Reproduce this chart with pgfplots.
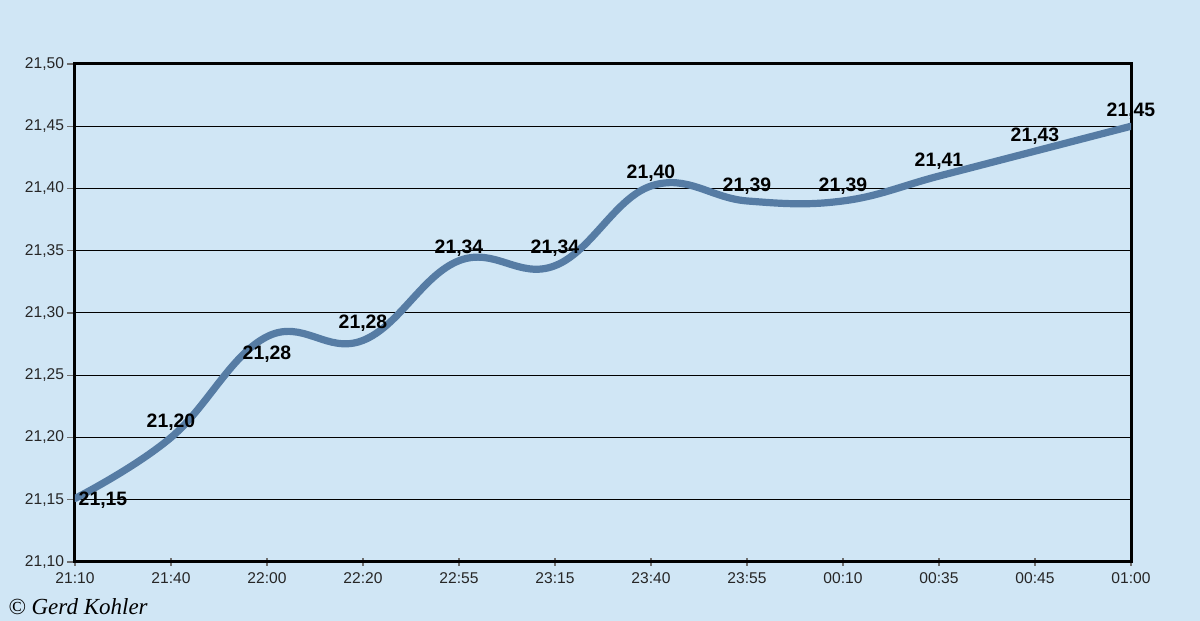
\documentclass[border=0pt]{standalone}
\usepackage{pgfplots}
\pgfplotsset{compat=1.18}
\usepackage{fontspec}
\setmainfont{Liberation Sans}
\newfontfamily\sigfont{Liberation Serif}
\definecolor{bg}{RGB}{208,230,245}
\definecolor{linec}{RGB}{86,124,164}
\definecolor{tickc}{RGB}{110,110,110}
\begin{document}
\begin{tikzpicture}
\fill[bg] (0,0) rectangle (600bp,310.5bp);
\useasboundingbox (0,0) rectangle (600bp,310.5bp);
\begin{axis}[
  at={(37.5bp,29.5bp)}, anchor=south west,
  scale only axis, width=528bp, height=249bp,
  xmin=0, xmax=11, ymin=21.10, ymax=21.50,
  xtick={0,...,11},
  xticklabels={21:10,21:40,22:00,22:20,22:55,23:15,23:40,23:55,00:10,00:35,00:45,01:00},
  ytick={21.10,21.15,...,21.51},
  tick label style={font=\fontsize{7.8bp}{9bp}\selectfont, text=black!85},
  yticklabel style={xshift=2bp, /pgf/number format/.cd,fixed,fixed zerofill,precision=2,use comma,assume math mode=true},
  major tick length=4bp,
  xtick align=center, ytick align=outside,
  every tick/.style={tickc, line width=0.6bp},
  ymajorgrids, grid style={black, line width=0.5bp},
  axis line style={black, line width=1.5bp},
  xtick pos=bottom, ytick pos=left,
  axis background/.style={fill=bg},
  clip=true,
]
\addplot[linec, line width=3.6bp, smooth, tension=0.68, line cap=round] coordinates {
(0,21.151) (1,21.200) (2,21.281) (3,21.278) (4,21.342) (5,21.338)
(6,21.402) (7,21.390) (8,21.390) (9,21.410) (10,21.430) (11,21.450)
};
\addplot[draw=none, mark=none, nodes near coords, point meta=explicit symbolic,
  every node near coord/.append style={anchor=center, yshift=7.5bp, font=\fontsize{9.7bp}{11bp}\selectfont\bfseries, text=black}]
coordinates {
(1,21.20) [21,20]
(3,21.28) [21,28]
(4,21.34) [21,34]
(5,21.34) [21,34]
(6,21.40) [21,40]
(7,21.39) [21,39]
(8,21.39) [21,39]
(9,21.41) [21,41]
(10,21.43) [21,43]
(11,21.45) [21,45]
};
\addplot[draw=none, mark=none, nodes near coords, point meta=explicit symbolic,
  every node near coord/.append style={anchor=center, yshift=-8bp, font=\fontsize{9.7bp}{11bp}\selectfont\bfseries, text=black}]
coordinates {
(2,21.28) [21,28]
};
\addplot[draw=none, mark=none, nodes near coords, point meta=explicit symbolic, clip=false,
  every node near coord/.append style={anchor=center, xshift=14bp, font=\fontsize{9.7bp}{11bp}\selectfont\bfseries, text=black}]
coordinates {
(0,21.15) [21,15]
};
\end{axis}
\node[anchor=west, inner sep=0pt, font=\sigfont\itshape\fontsize{11.5bp}{12bp}\selectfont] at (4bp,7bp) {© Gerd Kohler};
\end{tikzpicture}
\end{document}
